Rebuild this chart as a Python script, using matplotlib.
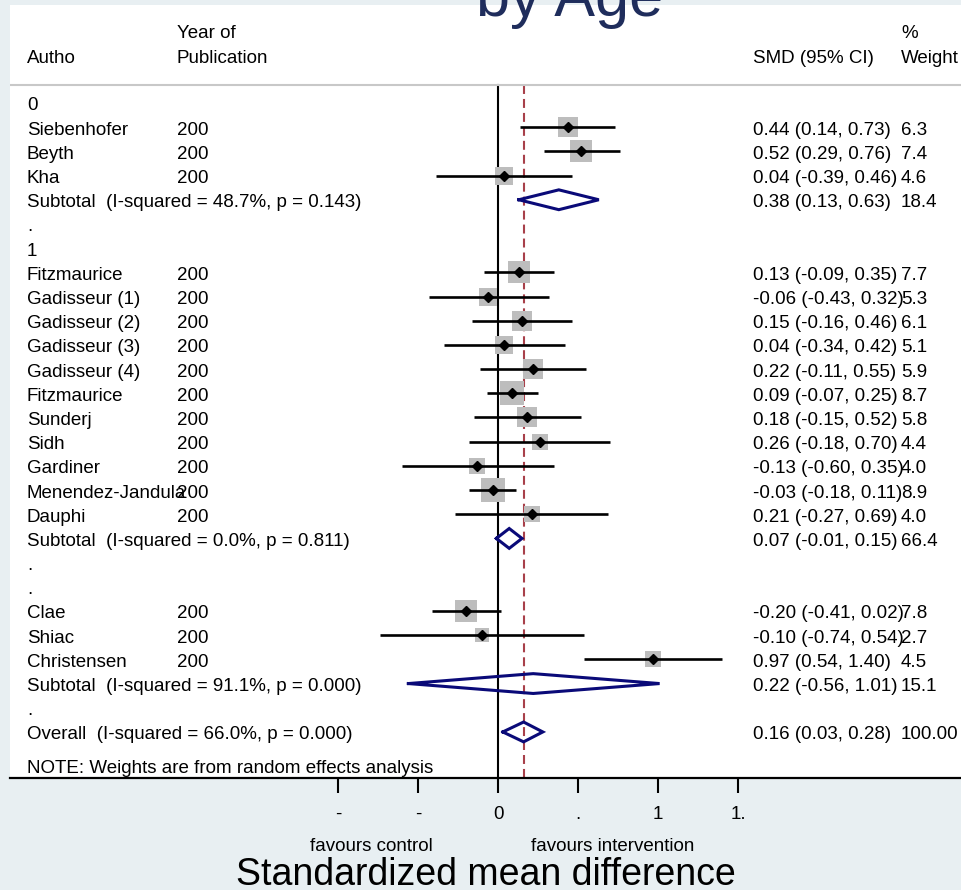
import matplotlib
matplotlib.use('Agg')
import matplotlib.pyplot as plt
import numpy as np

plt.rcParams['font.family'] = ['Liberation Sans', 'DejaVu Sans']

# data
group_labels = ['0', '1', '.']
authors = ['Siebenhofer', 'Beyth', 'Kha',
           'Fitzmaurice', 'Gadisseur (1)', 'Gadisseur (2)', 'Gadisseur (3)', 'Gadisseur (4)',
           'Fitzmaurice', 'Sunderj', 'Sidh', 'Gardiner', 'Menendez-Jandula', 'Dauphi',
           'Clae', 'Shiac', 'Christensen']
years = ['200'] * 17
groups = [0, 0, 0, 1, 1, 1, 1, 1, 1, 1, 1, 1, 1, 1, 2, 2, 2]
smd = [0.44, 0.52, 0.04, 0.13, -0.06, 0.15, 0.04, 0.22, 0.09, 0.18, 0.26, -0.13, -0.03, 0.21, -0.20, -0.10, 0.97]
ci_lo = [0.14, 0.29, -0.39, -0.09, -0.43, -0.16, -0.34, -0.11, -0.07, -0.15, -0.18, -0.60, -0.18, -0.27, -0.41, -0.74, 0.54]
ci_hi = [0.73, 0.76, 0.46, 0.35, 0.32, 0.46, 0.42, 0.55, 0.25, 0.52, 0.70, 0.35, 0.11, 0.69, 0.02, 0.54, 1.40]
weights = [6.3, 7.4, 4.6, 7.7, 5.3, 6.1, 5.1, 5.9, 8.7, 5.8, 4.4, 4.0, 8.9, 4.0, 7.8, 2.7, 4.5]

sub_smd = [0.38, 0.07, 0.22]
sub_lo = [0.13, -0.01, -0.56]
sub_hi = [0.63, 0.15, 1.01]
sub_w = [18.4, 66.4, 15.1]
sub_i2 = ['48.7%', '0.0%', '91.1%']
sub_p = ['0.143', '0.811', '0.000']

overall = (0.16, 0.03, 0.28)
overall_w = '100.00'
overall_i2, overall_p = '66.0%', '0.000'

xticks = [-1, -0.5, 0, 0.5, 1, 1.5]
xticklabels = ['-', '-', '0', '.', '1', '1.']

# layout (pixels of a 961x890 canvas)
W, H = 961, 890
X0PX, UNIT = 498, 160.0      # pixel of x=0, pixels per unit
ROW0, ROWH = 103, 24.19      # pixel of first row, row height
def px_x(p):
    return (p - X0PX) / UNIT
def px_row(p):
    return (p - ROW0) / ROWH

fs = 13.5
navy = '#0a0a78'
box_c = '#bdbdbd'
red = '#a8404a'

fig = plt.figure(figsize=(W / 100, H / 100), dpi=100, facecolor='#e8eff2')
ax = fig.add_axes([10 / W, 1 - 778 / H, 1 - 10 / W, (778 - 5) / H])
ax.set_facecolor('white')
ax.set_xlim(px_x(10), px_x(W))
ax.set_ylim(px_row(778), px_row(5))

col_auth, col_year, col_smd, col_w = px_x(27), px_x(177), px_x(753), px_x(901)
tdy = 0.31

def txt(x, r, s):
    ax.text(x, r + tdy, s, fontsize=fs, ha='left', va='baseline')

def diamond(m, lo, hi, r):
    h = 0.41
    ax.plot([lo, m, hi, m, lo], [r, r - h, r, r + h, r], color=navy, lw=2.2, solid_joinstyle='miter')

def ci_text(m, lo, hi):
    return f'{m:.2f} ({lo:.2f}, {hi:.2f})'

row = 0
for g in range(3):
    txt(col_auth, row, group_labels[g])
    row += 1
    for i in [k for k in range(len(authors)) if groups[k] == g]:
        ax.plot([ci_lo[i], ci_hi[i]], [row, row], color='black', lw=1.9, solid_capstyle='butt', zorder=2)
        ax.plot(smd[i], row, marker='s', ms=5.76 * np.sqrt(weights[i]), color=box_c, mew=0, zorder=1)
        ax.plot(smd[i], row, marker='D', ms=5.2, color='black', zorder=3)
        txt(col_auth, row, authors[i])
        txt(col_year, row, years[i])
        txt(col_smd, row, ci_text(smd[i], ci_lo[i], ci_hi[i]))
        txt(col_w, row, f'{weights[i]:.1f}')
        row += 1
    diamond(sub_smd[g], sub_lo[g], sub_hi[g], row)
    txt(col_auth, row, f'Subtotal  (I-squared = {sub_i2[g]}, p = {sub_p[g]})')
    txt(col_smd, row, ci_text(sub_smd[g], sub_lo[g], sub_hi[g]))
    txt(col_w, row, f'{sub_w[g]:.1f}')
    row += 1
    txt(col_auth, row, '.')
    row += 1

diamond(overall[0], overall[1], overall[2], row)
txt(col_auth, row, f'Overall  (I-squared = {overall_i2}, p = {overall_p})')
txt(col_smd, row, ci_text(*overall))
txt(col_w, row, overall_w)
ax.text(col_auth, px_row(773), 'NOTE: Weights are from random effects analysis', fontsize=fs, va='baseline')

# headers
hdr1, hdr2 = px_row(38), px_row(63)
ax.text(col_auth, hdr2, 'Autho', fontsize=fs, va='baseline')
ax.text(col_year, hdr1, 'Year of', fontsize=fs, va='baseline')
ax.text(col_year, hdr2, 'Publication', fontsize=fs, va='baseline')
ax.text(col_smd, hdr2, 'SMD (95% CI)', fontsize=fs, va='baseline')
ax.text(col_w, hdr1, '%', fontsize=fs, va='baseline')
ax.text(col_w, hdr2, 'Weight', fontsize=fs, va='baseline')
line_row = px_row(85)
ax.axhline(line_row, color='#c8c8c8', lw=1.5)

# reference lines
ax.plot([0, 0], [line_row, px_row(778)], color='black', lw=1.5, zorder=0)
ax.plot([overall[0]] * 2, [line_row, px_row(778)], color=red, lw=1.5, dashes=(4.3, 2.4), zorder=0)

for s in ['top', 'left', 'right']:
    ax.spines[s].set_visible(False)
ax.spines['bottom'].set_linewidth(1.6)
ax.set_yticks([])
ax.set_xticks(xticks)
ax.set_xticklabels(xticklabels)
ax.tick_params(axis='x', direction='out', length=11, width=1.5, pad=9, labelsize=fs)

ax.set_xlabel('Standardized mean difference', fontsize=27)
ax.xaxis.set_label_coords(0.5, (778 - 885) / 773)
ax.xaxis.label.set_va('baseline')

fig.text(371 / W, 1 - 851 / H, 'favours control', fontsize=fs, ha='center', va='baseline')
fig.text(613 / W, 1 - 851 / H, 'favours intervention', fontsize=fs, ha='center', va='baseline')
fig.text(570 / W, 1 - 16 / H, 'by Age', fontsize=44, ha='center', va='baseline', color='#1f2d5c')

fig.savefig('out.png', dpi=100, facecolor=fig.get_facecolor())
